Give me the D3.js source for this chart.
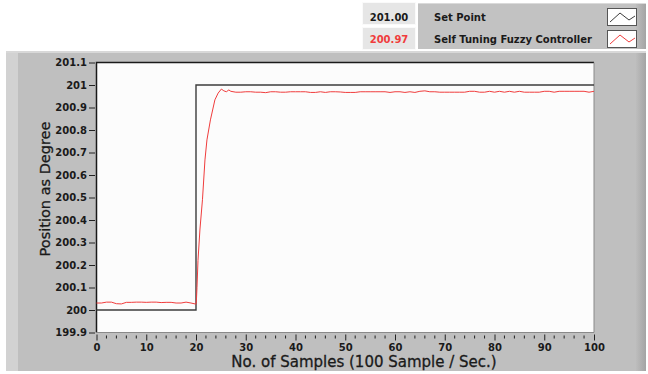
<!DOCTYPE html>
<html lang="en">
<head>
<meta charset="utf-8">
<title>Set Point vs Self Tuning Fuzzy Controller</title>
<script src="https://d3js.org/d3.v7.min.js"></script>
<style>
  body { margin: 0; background: #fff; }
  svg { display: block; }
  text { font-family: "DejaVu Sans", Verdana, sans-serif; }
</style>
</head>
<body>
<script>
// chart data
var xTicks = [0, 10, 20, 30, 40, 50, 60, 70, 80, 90, 100];
var yTicks = [199.9, 200, 200.1, 200.2, 200.3, 200.4, 200.5, 200.6, 200.7, 200.8, 200.9, 201, 201.1];
var yTickLabels = ["199.9", "200", "200.1", "200.2", "200.3", "200.4", "200.5", "200.6", "200.7", "200.8", "200.9", "201", "201.1"];

var seriesNames = ["Set Point", "Self Tuning Fuzzy Controller"];
var lastValues = ["201.00", "200.97"];

// set point: step from 200 to 201 at sample 20
var setX = [0, 20, 20, 100];
var setY = [200, 200, 201, 201];

// controller output, samples 0..20 before the step
var fuzzyPre = [200.031, 200.031, 200.035, 200.035, 200.028, 200.027, 200.034, 200.034, 200.035, 200.035,
                200.034, 200.035, 200.035, 200.033, 200.034, 200.034, 200.031, 200.031, 200.035, 200.031, 200.026];
// rise after the step (sample, value)
var riseX = [20.1, 20.2, 20.4, 20.8, 21.3, 21.8, 22.2, 22.9, 23.8, 24.45, 25.1, 25.6, 26.1, 26.6];
var riseY = [200.05, 200.1, 200.22, 200.36, 200.49, 200.667, 200.756, 200.845, 200.934, 200.964, 200.982, 200.974, 200.97, 200.978];
// samples 27..100 after settling
var fuzzyPost = [200.972, 200.968, 200.968, 200.970, 200.970, 200.968, 200.968, 200.966, 200.970, 200.970,
                 200.968, 200.968, 200.970, 200.970, 200.970, 200.970, 200.967, 200.967, 200.970, 200.967,
                 200.970, 200.970, 200.969, 200.967, 200.967, 200.967, 200.970, 200.970, 200.970, 200.970,
                 200.970, 200.970, 200.967, 200.970, 200.970, 200.967, 200.970, 200.967, 200.972, 200.974,
                 200.970, 200.970, 200.968, 200.968, 200.968, 200.968, 200.968, 200.968, 200.972, 200.972,
                 200.968, 200.968, 200.972, 200.968, 200.972, 200.968, 200.972, 200.968, 200.972, 200.968,
                 200.968, 200.968, 200.968, 200.972, 200.972, 200.968, 200.972, 200.972, 200.972, 200.972,
                 200.972, 200.972, 200.968, 200.972];

var width = 648, height = 374;
var plotL = 96.5, plotR = 594, plotT = 62.5, plotB = 332.5;

var svg = d3.select("body").append("svg")
    .attr("width", width)
    .attr("height", height);

var x = d3.scaleLinear().domain([0, 100]).range([plotL, plotR]);
var y = d3.scaleLinear().domain([199.9, 201.1]).range([plotB, plotT]);

// grey front panel
var grad = svg.append("defs").append("linearGradient").attr("id", "edge");
grad.append("stop").attr("offset", "0%").attr("stop-color", "#bdbdbd");
grad.append("stop").attr("offset", "100%").attr("stop-color", "#a4a4a4");

svg.append("rect").attr("x", 6).attr("y", 51).attr("width", 640).attr("height", 320).attr("fill", "#bfbfbf");
svg.append("rect").attr("x", 6).attr("y", 51).attr("width", 12).attr("height", 320).attr("fill", "#d2d2d2");
svg.append("rect").attr("x", 636).attr("y", 51).attr("width", 10).attr("height", 320).attr("fill", "url(#edge)");
svg.append("rect").attr("x", 6).attr("y", 51).attr("width", 640).attr("height", 2).attr("fill", "#d8d8d8");

// plot area
svg.append("rect")
    .attr("x", plotL).attr("y", plotT)
    .attr("width", plotR - plotL).attr("height", plotB - plotT)
    .attr("fill", "#fcfcfc");
svg.append("path")
    .attr("d", "M" + plotL + "," + plotB + "V" + plotT + "H" + plotR)
    .attr("fill", "none").attr("stroke", "#1a1a1a").attr("stroke-width", 1.5);
svg.append("path")
    .attr("d", "M" + plotR + "," + plotT + "V" + plotB + "H" + plotL)
    .attr("fill", "none").attr("stroke", "#8a8a8a").attr("stroke-width", 1);

// y axis
var yAxis = svg.append("g").attr("transform", "translate(" + (plotL - 1.5) + ",0)")
    .call(d3.axisLeft(y).tickValues(yTicks).tickSize(6).tickPadding(2)
        .tickFormat(function(d, i) { return yTickLabels[i]; }));
yAxis.select(".domain").remove();
yAxis.selectAll("line").attr("stroke", "#222");
yAxis.selectAll("text").attr("font-size", 10).attr("font-weight", "bold").attr("fill", "#1a1a1a")
    .attr("font-family", "DejaVu Sans");

// x axis with minor ticks every 2
var minor = d3.range(0, 101, 2).filter(function(d) { return d % 10 !== 0; });
svg.append("g").selectAll("line").data(minor).enter().append("line")
    .attr("x1", function(d) { return x(d); }).attr("x2", function(d) { return x(d); })
    .attr("y1", plotB + 3).attr("y2", plotB + 6)
    .attr("stroke", "#222");
var xAxis = svg.append("g").attr("transform", "translate(0," + (plotB + 2) + ")")
    .call(d3.axisBottom(x).tickValues(xTicks).tickSize(6).tickPadding(3));
xAxis.select(".domain").remove();
xAxis.selectAll("line").attr("stroke", "#222");
xAxis.selectAll("text").attr("font-size", 10).attr("font-weight", "bold").attr("fill", "#1a1a1a")
    .attr("font-family", "DejaVu Sans");

// axis titles (regular face, slightly thickened)
svg.append("text")
    .attr("x", 364).attr("y", 367)
    .attr("text-anchor", "middle")
    .attr("font-size", 15).attr("fill", "#1a1a1a")
    .attr("stroke", "#1a1a1a").attr("stroke-width", 0.3)
    .text("No. of Samples (100 Sample / Sec.)");
svg.append("text")
    .attr("transform", "translate(50,189) rotate(-90)")
    .attr("text-anchor", "middle")
    .attr("font-size", 14.5).attr("fill", "#1a1a1a")
    .attr("stroke", "#1a1a1a").attr("stroke-width", 0.3)
    .text("Position as Degree");

// lines
var line = d3.line().x(function(d) { return x(d[0]); }).y(function(d) { return y(d[1]); });

var setData = setX.map(function(v, i) { return [v, setY[i]]; });
var fuzzyData = fuzzyPre.map(function(v, i) { return [i, v]; })
    .concat(riseX.map(function(v, i) { return [v, riseY[i]]; }))
    .concat(fuzzyPost.map(function(v, i) { return [27 + i, v]; }));

var plot = svg.append("g");
plot.append("path").datum(setData)
    .attr("d", line).attr("fill", "none")
    .attr("stroke", "#3c3c3c").attr("stroke-width", 1.4);
plot.append("path").datum(fuzzyData)
    .attr("d", line).attr("fill", "none")
    .attr("stroke", "#f03c3c").attr("stroke-width", 1);

// legend
var legend = svg.append("g");
var rowY = [2, 27];
var baseY = [21, 43];
var swatchY = [8, 30];
var valueColors = ["#1a1a1a", "#f03c3c"];
var lineColors = ["#3c3c3c", "#f03c3c"];

legend.append("rect").attr("x", 418).attr("y", 3).attr("width", 228).attr("height", 46).attr("fill", "#c2c2c2");
legend.append("rect").attr("x", 636).attr("y", 3).attr("width", 10).attr("height", 46).attr("fill", "url(#edge)");
legend.append("rect").attr("x", 418).attr("y", 3).attr("width", 228).attr("height", 1).attr("fill", "#dadada");

rowY.forEach(function(by, i) {
  legend.append("rect").attr("x", 362.5).attr("y", by + 0.5).attr("width", 53).attr("height", 22)
      .attr("fill", "#e6e6e6").attr("stroke", "#fafafa");
  legend.append("text").attr("x", 389).attr("y", baseY[i])
      .attr("text-anchor", "middle").attr("font-size", 10).attr("font-weight", "bold")
      .attr("fill", valueColors[i]).text(lastValues[i]);
  legend.append("text").attr("x", 434).attr("y", baseY[i])
      .attr("font-size", 10).attr("font-weight", "bold")
      .attr("fill", "#1a1a1a").text(seriesNames[i]);

  var sy = swatchY[i];
  legend.append("rect").attr("x", 607.5).attr("y", sy + 0.5).attr("width", 29).attr("height", 17)
      .attr("fill", "#fff").attr("stroke", "#555");
  legend.append("polyline")
      .attr("points", [[610, sy + 14], [620, sy + 5], [629, sy + 12], [635, sy + 8]].join(" "))
      .attr("fill", "none").attr("stroke", lineColors[i]).attr("stroke-width", 1);
});
</script>
</body>
</html>
